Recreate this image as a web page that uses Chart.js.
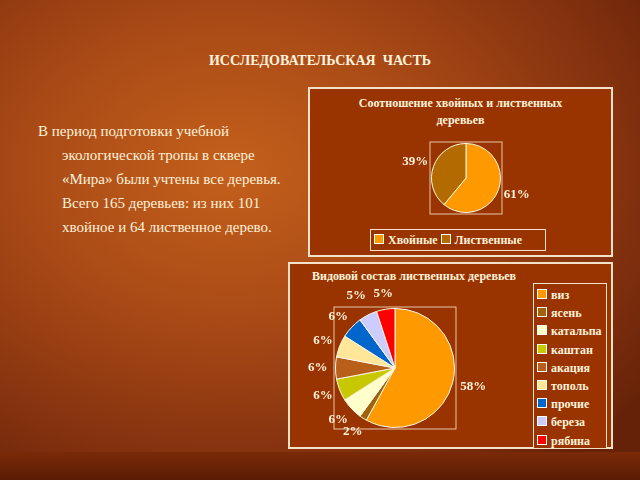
<!DOCTYPE html>
<html><head><meta charset="utf-8">
<script src="https://cdn.jsdelivr.net/npm/chart.js@4"></script>
<style>
body{margin:0;width:640px;height:480px;overflow:hidden;font-family:"Liberation Serif",serif;}
#bg{position:absolute;left:0;top:0;width:640px;height:480px;
background:radial-gradient(ellipse 520px 380px at 230px 170px,#c4601c 0%,#a94a16 40%,#85320f 75%,#652208 100%);}
#band{position:absolute;left:0;top:452px;width:640px;height:28px;background:linear-gradient(#7a2a08,#5a1c04);}
.t{position:absolute;color:#fff3dc;}
.box{position:absolute;background:#993300;border:2px solid #f4e2c8;box-sizing:border-box;}
.leg{position:absolute;font-weight:bold;font-size:12px;color:#fff3dc;}
.sw{display:inline-block;width:8px;height:8px;border:1px solid #fff;margin-right:4px;vertical-align:0px;}
canvas{position:absolute;}
</style></head><body>
<div id="bg"></div><div id="band"></div>
<div class="t" style="left:0;width:640px;top:53px;text-align:center;font-weight:bold;font-size:14px;">ИССЛЕДОВАТЕЛЬСКАЯ&nbsp; ЧАСТЬ</div>
<div class="t" style="left:38px;top:119px;font-size:15px;line-height:24px;width:270px;">
<div>В период подготовки учебной</div>
<div style="padding-left:24px">экологической тропы в сквере</div>
<div style="padding-left:24px">«Мира» были учтены все деревья.</div>
<div style="padding-left:24px">Всего 165 деревьев: из них 101</div>
<div style="padding-left:24px">хвойное и 64 лиственное дерево.</div>
</div>
<div class="box" style="left:308px;top:87px;width:305px;height:170px;"></div>
<div class="t" style="left:308px;width:305px;top:95px;text-align:center;font-weight:bold;font-size:12px;line-height:17px;">Соотношение хвойных и лиственных<br>деревьев</div>
<div class="box" style="left:370px;top:229px;width:176px;height:22px;border-width:1px;"></div>
<div class="leg" style="left:374px;top:233px;" id="leg1"></div>
<div class="box" style="left:288px;top:262px;width:325px;height:187px;"></div>
<div class="t" style="left:312px;top:269px;font-weight:bold;font-size:12px;">Видовой состав лиственных деревьев</div>
<div class="box" style="left:533px;top:283px;width:74px;height:166px;border-width:1px;"></div>
<div class="leg" style="left:537px;top:286px;line-height:18.2px;" id="leg2"></div>
<canvas id="c1"></canvas>
<canvas id="c2"></canvas>
<script>
const cat1=["Хвойные","Лиственные"];
const val1=[61,39];
const col1=["#ff9900","#b36b00"];
const cat2=["виз","ясень","катальпа","каштан","акация","тополь","прочие","береза","рябина"];
const val2=[58,2,6,6,6,6,6,5,5];
const col2=["#ff9900","#a0620a","#ffffcc","#c8c800","#b8601a","#ffe699","#0066cc","#ccccff","#ff0000"];

document.getElementById('leg1').innerHTML=cat1.map((c,i)=>`<span class="sw" style="background:${col1[i]}"></span>${c}&nbsp;`).join('');
document.getElementById('leg2').innerHTML=cat2.map((c,i)=>`<div><span class="sw" style="background:${col2[i]}"></span>${c}</div>`).join('');

function place(id,l,t,w,h){const c=document.getElementById(id);c.style.left=l+'px';c.style.top=t+'px';c.style.width=w+'px';c.style.height=h+'px';c.width=w;c.height=h;return c;}

const labelPlugin={id:'lbl',afterDatasetsDraw(ch,a,opts){
  const ctx=ch.ctx;const meta=ch.getDatasetMeta(0);const ds=ch.data.datasets[0].data;
  const arc0=meta.data[0];const r=arc0.outerRadius,cx=arc0.x,cy=arc0.y;
  ctx.save();ctx.strokeStyle='#e8c8a8';ctx.lineWidth=1;
  ctx.strokeRect(cx-r-1.5,cy-r-1.5,2*r+3,2*r+3);
  ctx.fillStyle='#fff3dc';ctx.font='bold 13px "Liberation Serif"';ctx.textBaseline='middle';
  const extra=opts.extra||[];
  meta.data.forEach((arc,i)=>{
    const m=(arc.startAngle+arc.endAngle)/2;const d=r+(opts.off||14)+(extra[i]||0);
    const x=cx+Math.cos(m)*d,y=cy+Math.sin(m)*d;
    const c=Math.cos(m);
    ctx.textAlign=c>0.2?'left':(c<-0.2?'right':'center');
    ctx.fillText(ds[i]+'%',c>0.2?x-8:(c<-0.2?x+8:x),y);
  });
  ctx.restore();}};

function pie(id,cats,vals,cols,off,pad,extra){
  return new Chart(document.getElementById(id),{type:'pie',
    data:{labels:cats,datasets:[{data:vals,backgroundColor:cols,borderColor:'#fff8e8',borderWidth:1}]},
    options:{responsive:false,animation:false,layout:{padding:pad},
      plugins:{legend:{display:false},tooltip:{enabled:false},lbl:{off:off,extra:extra}}},
    plugins:[labelPlugin]});
}
place('c1',366,138,200,80);
pie('c1',cat1,val1,col1,14,{top:5,bottom:5});
place('c2',295,289,200,161);
pie('c2',cat2,val2,col2,16,{top:19,bottom:22},[0,0,0,0,0,0,0,6,0]);
</script>
</body></html>
